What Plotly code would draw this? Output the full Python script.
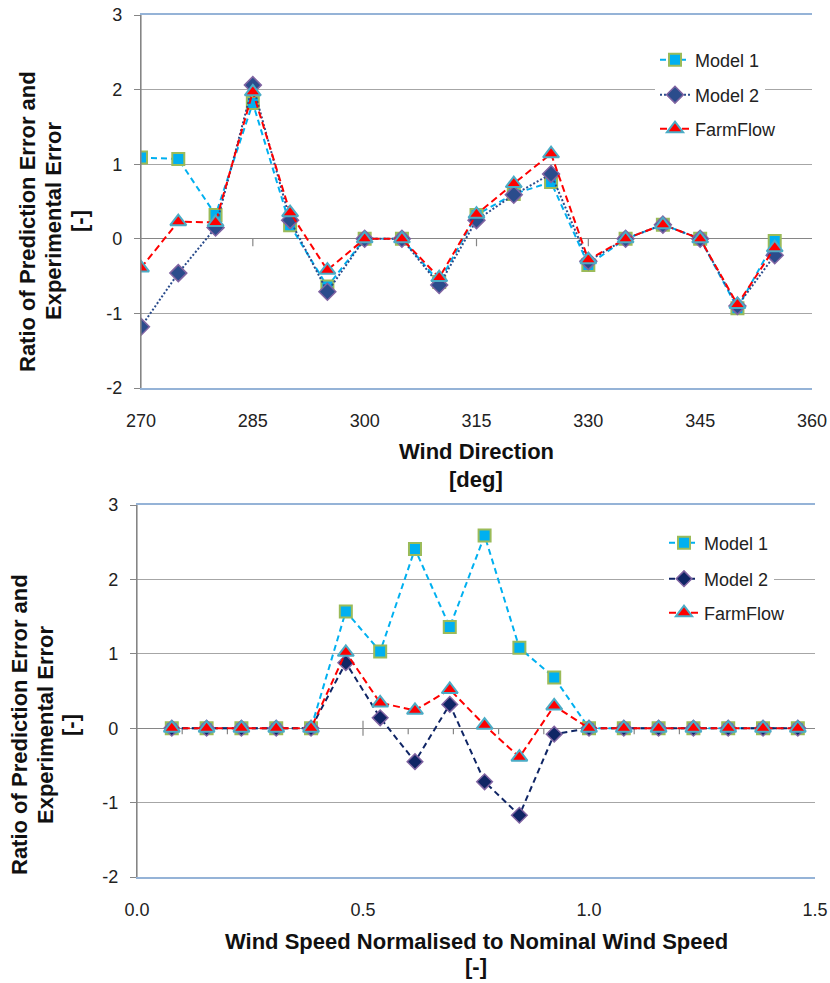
import plotly.graph_objects as go

# ---------------- data ----------------
wind_direction = [270, 275, 280, 285, 290, 295, 300, 305, 310, 315, 320, 325, 330, 335, 340, 345, 350, 355]
dir_model1 = [1.09, 1.07, 0.32, 1.82, 0.18, -0.64, 0.0, 0.0, -0.58, 0.32, 0.60, 0.76, -0.35, 0.0, 0.19, 0.0, -0.93, -0.03]
dir_model2 = [-1.18, -0.46, 0.15, 2.06, 0.25, -0.71, 0.0, 0.0, -0.62, 0.25, 0.59, 0.87, -0.30, 0.0, 0.19, 0.0, -0.90, -0.22]
dir_farmflow = [-0.39, 0.23, 0.22, 1.97, 0.35, -0.42, 0.0, 0.0, -0.52, 0.33, 0.74, 1.14, -0.28, 0.0, 0.19, 0.0, -0.88, -0.12]

wind_speed_norm = [0.077, 0.154, 0.231, 0.308, 0.385, 0.462, 0.538, 0.615, 0.692, 0.769,
                   0.846, 0.923, 1.0, 1.077, 1.154, 1.231, 1.308, 1.385, 1.462]
spd_model1 = [0, 0, 0, 0, 0, 1.57, 1.03, 2.41, 1.36, 2.59, 1.08, 0.68, 0, 0, 0, 0, 0, 0, 0]
spd_model2 = [0, 0, 0, 0, 0, 0.88, 0.14, -0.45, 0.32, -0.72, -1.17, -0.08, 0, 0, 0, 0, 0, 0, 0]
spd_farmflow = [0, 0, 0, 0, 0, 1.02, 0.34, 0.24, 0.52, 0.04, -0.39, 0.30, 0, 0, 0, 0, 0, 0, 0]

dir_ticks = [270, 285, 300, 315, 330, 345, 360]
spd_ticks = [0.0, 0.5, 1.0, 1.5]
spd_tick_labels = ["0.0", "0.5", "1.0", "1.5"]
y_ticks = [-2, -1, 0, 1, 2, 3]
y_tick_labels = ["-2", "-1", "0", "1", "2", "3"]

series_names = ["Model 1", "Model 2", "FarmFlow"]
y_title_lines = ["Ratio of Prediction Error and", "Experimental Error", "[-]"]

# ---------------- layout geometry ----------------
W, H = 830, 983
ML, MR, MT, MB = 136, 15, 15, 106
PW, PH = W - ML - MR, H - MT - MB


def px_x(px):
    return (px - ML) / PW


def px_y(py):
    return (H - MB - py) / PH


FONT = "Liberation Sans, Arial, sans-serif"
GRID = "#A6A6A6"
AXIS = "#868686"
BORDER = "#95B3D7"

C1 = "#00B0F0"
C1_EDGE = "#9BBB59"
C2_TOP = "#2B4C8C"
C2_BOT = "#0F2565"
C2_EDGE = "#8064A2"
C3 = "#FF0000"
C3_EDGE = "#4BACC6"

fig = go.Figure()

# ---------------- top chart ----------------
fig.add_trace(go.Scatter(
    x=wind_direction, y=dir_model1, name=series_names[0], mode="lines+markers",
    line=dict(color=C1, width=2, dash="6px,4px"),
    marker=dict(symbol="square", size=12, color=C1, line=dict(color=C1_EDGE, width=2)),
    xaxis="x", yaxis="y", legend="legend"))
fig.add_trace(go.Scatter(
    x=wind_direction, y=dir_model2, name=series_names[1], mode="lines+markers",
    line=dict(color=C2_TOP, width=2, dash="2px,2px"),
    marker=dict(symbol="diamond", size=13, color=C2_TOP, line=dict(color=C2_EDGE, width=1.5)),
    xaxis="x", yaxis="y", legend="legend2"))
fig.add_trace(go.Scatter(
    x=wind_direction, y=dir_farmflow, name=series_names[2], mode="lines+markers",
    line=dict(color=C3, width=2, dash="7px,4px"),
    marker=dict(symbol="triangle-up", size=14, color=C3, line=dict(color=C3_EDGE, width=2)),
    xaxis="x", yaxis="y", legend="legend3"))

# ---------------- bottom chart ----------------
fig.add_trace(go.Scatter(
    x=wind_speed_norm, y=spd_model1, name=series_names[0], mode="lines+markers",
    line=dict(color=C1, width=2, dash="6px,4px"),
    marker=dict(symbol="square", size=12, color=C1, line=dict(color=C1_EDGE, width=2)),
    xaxis="x2", yaxis="y2", legend="legend4"))
fig.add_trace(go.Scatter(
    x=wind_speed_norm, y=spd_model2, name=series_names[1], mode="lines+markers",
    line=dict(color=C2_BOT, width=2, dash="6px,4px"),
    marker=dict(symbol="diamond", size=12, color=C2_BOT, line=dict(color=C2_EDGE, width=1.5)),
    xaxis="x2", yaxis="y2", legend="legend5"))
fig.add_trace(go.Scatter(
    x=wind_speed_norm, y=spd_farmflow, name=series_names[2], mode="lines+markers",
    line=dict(color=C3, width=2, dash="7px,4px"),
    marker=dict(symbol="triangle-up", size=14, color=C3, line=dict(color=C3_EDGE, width=2)),
    xaxis="x2", yaxis="y2", legend="legend6"))

tickfont = dict(family=FONT, size=18, color="#222222")
titlefont = dict(family=FONT, size=22, color="#111111")
legfont = dict(family=FONT, size=18, color="#222222")

top_y0, top_y1 = px_y(388), px_y(15)
bot_y0, bot_y1 = px_y(877), px_y(505)

common_y = dict(range=[-2, 3], tickvals=y_ticks, ticktext=y_tick_labels,
                showgrid=True, gridcolor=GRID, gridwidth=1,
                zeroline=True, zerolinecolor=AXIS, zerolinewidth=1.2,
                showline=True, linecolor=AXIS, linewidth=1.2,
                ticks="outside", ticklen=6, tickcolor=AXIS, tickfont=tickfont,
                ticklabelstandoff=8, fixedrange=True, automargin=False,
                ticklabeloverflow="allow")
common_x = dict(showgrid=False, zeroline=False,
                showline=True, linecolor=BORDER, linewidth=1.5, mirror=True,
                ticks="", tickfont=tickfont, ticklabelstandoff=16,
                automargin=False, ticklabeloverflow="allow", fixedrange=True)

fig.update_layout(
    template="none",
    width=W, height=H,
    margin=dict(l=ML, r=MR, t=MT, b=MB, autoexpand=False),
    paper_bgcolor="white", plot_bgcolor="white",
    showlegend=True,
    xaxis=dict(domain=[px_x(141), px_x(812)], anchor="y", range=[270, 360],
               tickvals=dir_ticks, **common_x),
    yaxis=dict(domain=[top_y0, top_y1], anchor="x", **common_y),
    xaxis2=dict(domain=[px_x(137), px_x(815)], anchor="y2", range=[0, 1.5],
                tickvals=spd_ticks, ticktext=spd_tick_labels, **common_x),
    yaxis2=dict(domain=[bot_y0, bot_y1], anchor="x2", **common_y),
)

# legends: one per entry for Excel-like spacing
leg_common = dict(bgcolor="white", borderwidth=0, font=legfont, xanchor="left",
                  yanchor="middle", itemwidth=30)
top_leg_y = [60, 95, 129]
bot_leg_y = [543, 579, 613]
fig.update_layout(
    legend=dict(x=px_x(655), y=px_y(top_leg_y[0]), **leg_common),
    legend2=dict(x=px_x(655), y=px_y(top_leg_y[1]), **leg_common),
    legend3=dict(x=px_x(655), y=px_y(top_leg_y[2]), **leg_common),
    legend4=dict(x=px_x(664), y=px_y(bot_leg_y[0]), **leg_common),
    legend5=dict(x=px_x(664), y=px_y(bot_leg_y[1]), **leg_common),
    legend6=dict(x=px_x(664), y=px_y(bot_leg_y[2]), **leg_common),
)

shapes = []
# left axis lines in grey over the light-blue border
for xa, ya in (("x", "y"), ("x2", "y2")):
    shapes.append(dict(type="line", xref=f"{xa} domain", yref=f"{ya} domain",
                       x0=0, x1=0, y0=0, y1=1, line=dict(color=AXIS, width=1.2), layer="above"))
# tick marks on the zero line (category-axis crossing)
for v in dir_ticks[1:-1]:
    shapes.append(dict(type="line", xref="x", yref="y", x0=v, x1=v, y0=0, y1=-0.1,
                       line=dict(color=AXIS, width=1.2), layer="below"))
for i in range(1, 15):
    v = i / 10
    major = i in (5, 10)
    shapes.append(dict(type="line", xref="x2", yref="y2", x0=v, x1=v,
                       y0=0.1 if major else 0, y1=-0.1 if major else -0.08,
                       line=dict(color=AXIS, width=1.2), layer="below"))
fig.update_layout(shapes=shapes)

ann = []
# y-axis titles (three lines, tight spacing)
for lines_x, cy in (((27, 53, 79), 221), ((19, 45, 70), 725)):
    for txt, lx in zip(y_title_lines, lines_x):
        ann.append(dict(text=f"<b>{txt}</b>", xref="paper", yref="paper",
                        x=px_x(lx), y=px_y(cy), xanchor="center", yanchor="middle",
                        textangle=-90, showarrow=False, font=titlefont))
# x-axis titles
for txt, cx, cy in (("Wind Direction", 476, 451), ("[deg]", 476, 479),
                    ("Wind Speed Normalised to Nominal Wind Speed", 476, 941), ("[-]", 476, 967)):
    ann.append(dict(text=f"<b>{txt}</b>", xref="paper", yref="paper",
                    x=px_x(cx), y=px_y(cy), xanchor="center", yanchor="middle",
                    showarrow=False, font=titlefont))
fig.update_layout(annotations=ann)

# remove the default page margin so the 830x983 figure fills the window exactly
fig.write_html("out.html",
               config={"displayModeBar": False},
               post_script="document.body.style.margin='0';"
                           "document.documentElement.style.overflow='hidden';")
